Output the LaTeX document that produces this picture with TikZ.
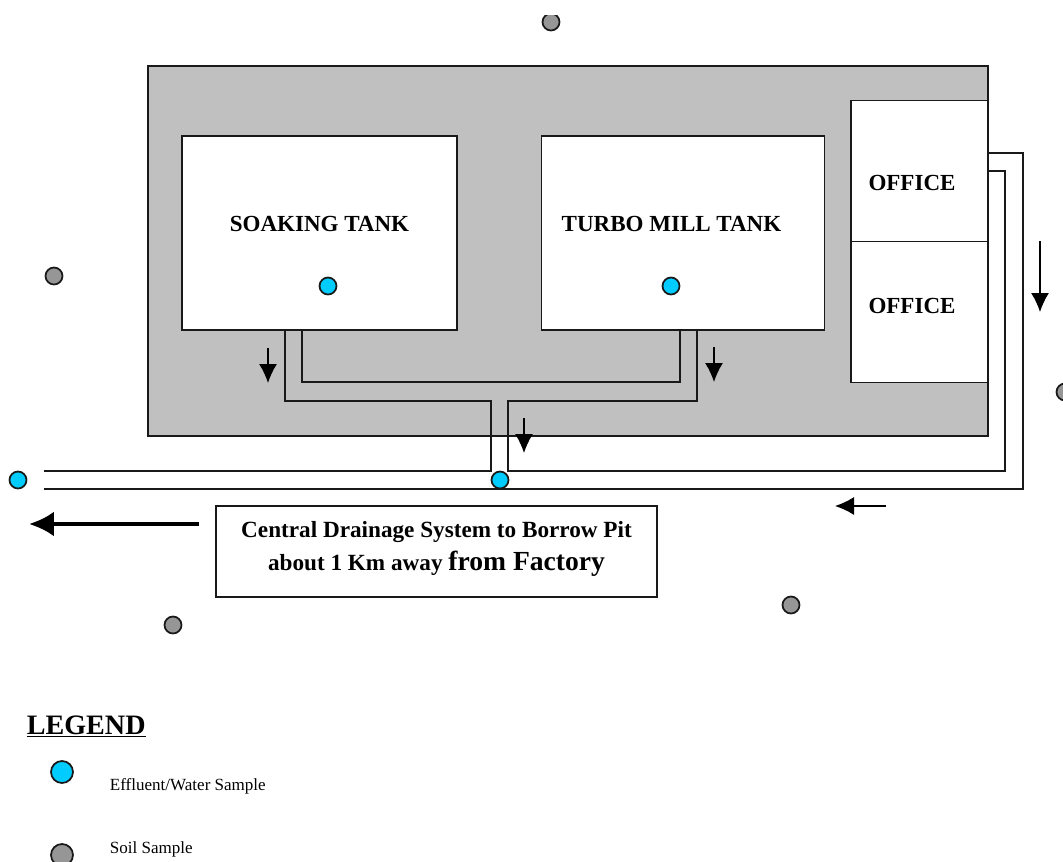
\documentclass[tikz,border=0pt]{standalone}
\usepackage{fontspec}
\setmainfont{Liberation Serif}
\usepackage{xcolor}
\usetikzlibrary{positioning,arrows.meta}
\definecolor{cGround}{RGB}{192,192,192}
\definecolor{cWater}{RGB}{0,204,255}
\definecolor{cSoil}{RGB}{150,150,150}
\definecolor{cLine}{RGB}{25,25,25}

\begin{document}
\begin{tikzpicture}[x=0.02cm,y=-0.02cm,line width=1pt,cLine,
    room/.style={draw,fill=white,inner sep=0pt},
    roomlabel/.style={font=\fontsize{13.1}{15}\selectfont\bfseries,inner sep=0pt,text=black},
    water/.style={draw,circle,fill=cWater,minimum size=0.34cm,inner sep=0pt},
    soil/.style={draw,circle,fill=cSoil,minimum size=0.34cm,inner sep=0pt},
    flow/.style={line width=0.8pt,-{Latex[length=0.38cm,width=0.36cm]}},
    keytext/.style={font=\fontsize{9.7}{12}\selectfont,anchor=base west,inner sep=0pt,text=black}]
  \useasboundingbox (0,0) rectangle (1063,862);
  \clip (0,15) rectangle (1063,862);
  \node[draw,fill=cGround,inner sep=0pt,minimum width=16.8cm,minimum height=7.4cm] (yard) at (568,251) {};
  \node[room,minimum width=5.5cm,minimum height=3.88cm] (soaking) at (319.5,233) {};
  \node[room,minimum width=5.66cm,minimum height=3.88cm] (turbo) at (683,233) {};
  \node[room,minimum width=2.74cm,minimum height=2.82cm] (office1) at (919.5,171) {};
  \node[room,minimum width=2.74cm,minimum height=2.82cm] (office2) at (919.5,312) {};
  \node[roomlabel] (soakinglabel) at (319.5,224) {SOAKING TANK};
  \node[roomlabel] (turbolabel) at (671.5,224) {TURBO MILL TANK};
  \node[roomlabel] (officelabel1) at (912,183) {OFFICE};
  \node[roomlabel] (officelabel2) at (912,306) {OFFICE};

  \coordinate (p1) at (285,330);
  \coordinate (p2) at (302,330);
  \coordinate (p3) at (680,330);
  \coordinate (p4) at (697,330);
  \coordinate (p5) at (988,171);
  \coordinate (p6) at (988,153);
  \coordinate (p7) at (44,471);
  \coordinate (p8) at (44,489);
  \draw (p2) |- (680,382) -- (p3);
  \draw (p1) |- (491,401) |- (p7);
  \draw (p4) |- (508,401) -- (508,471) -| (1005,171) -- (p5);
  \draw (p8) -- (1023,489) |- (p6);

  \coordinate (a1) at (268,348);
  \coordinate (a2) at (268,383);
  \coordinate (b1) at (714,347);
  \coordinate (b2) at (714,382);
  \coordinate (c1) at (524,418);
  \coordinate (c2) at (524,453);
  \coordinate (d1) at (1040,241);
  \coordinate (d2) at (1040,312);
  \coordinate (e1) at (886,506);
  \coordinate (e2) at (835,506);
  \coordinate (f1) at (199,524);
  \coordinate (f2) at (29,524);
  \draw[flow,black] (a1) -- (a2);
  \draw[flow,black] (b1) -- (b2);
  \draw[flow,black] (c1) -- (c2);
  \draw[flow,black] (d1) -- (d2);
  \draw[flow,black] (e1) -- (e2);
  \draw[black,line width=2.4pt,-{Latex[length=0.5cm,width=0.5cm]}] (f1) -- (f2);

  \node[draw,inner sep=0pt,minimum width=8.82cm,minimum height=1.82cm] (drain) at (436.5,551.5) {};
  \node[align=center,inner sep=0pt,text=black,font=\fontsize{13.2}{18.6}\selectfont\bfseries] (draintext) at (436.5,549)
    {Central Drainage System to Borrow Pit\\about 1 Km away {\fontsize{15.7}{18.6}\selectfont from Factory}};

  \node[water] (w1) at (328,286) {};
  \node[water] (w2) at (671,286) {};
  \node[water] (w3) at (18,480) {};
  \node[water] (w4) at (500,480) {};
  \node[soil] (s1) at (551,22) {};
  \node[soil] (s2) at (54,276) {};
  \node[soil] (s3) at (1065,392) {};
  \node[soil] (s4) at (173,625) {};
  \node[soil] (s5) at (791,605) {};

  \node[font=\fontsize{16}{18}\selectfont\bfseries,anchor=base west,inner sep=0pt,text=black] (legend) at (26,734) {\underline{LEGEND}};
  \node[water,minimum size=0.44cm] (keywater) at (62,772) {};
  \node[soil,minimum size=0.44cm] (keysoil) at (62,855) {};
  \node[keytext] (keywatertext) at (109,790) {Effluent/Water Sample};
  \node[keytext] (keysoiltext) at (109,853) {Soil Sample};
\end{tikzpicture}
\end{document}
